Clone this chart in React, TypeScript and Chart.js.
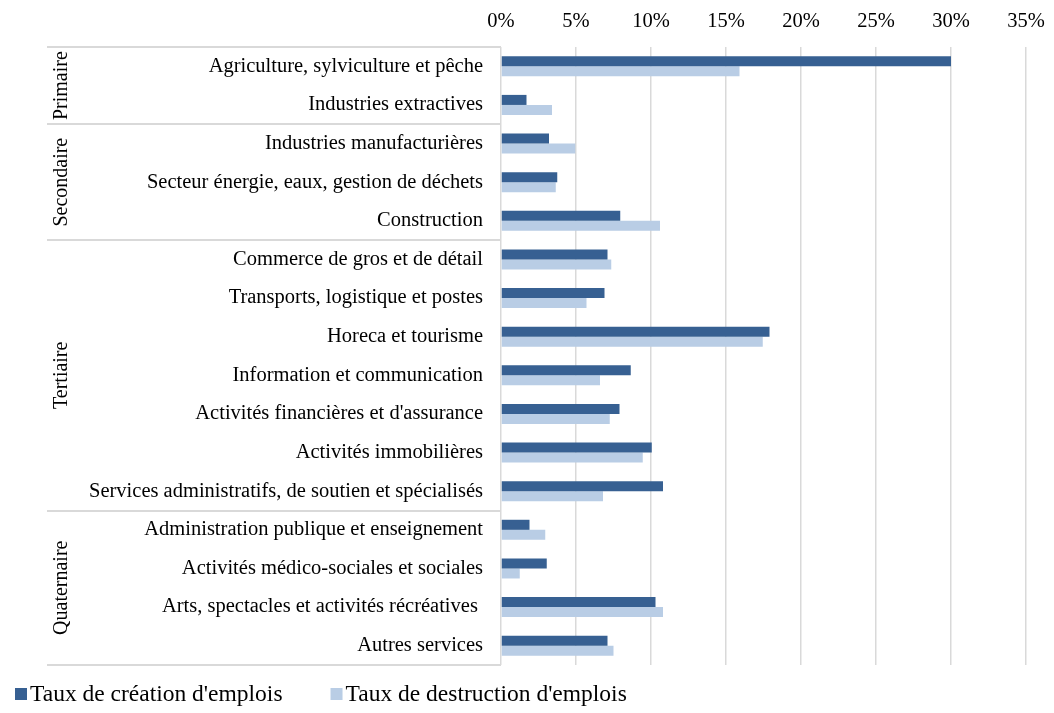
import React, { useEffect, useRef } from 'react';
import { Chart, registerables } from 'chart.js';

Chart.register(...registerables);

const categories = [
  'Agriculture, sylviculture et pêche',
  'Industries extractives',
  'Industries manufacturières',
  'Secteur énergie, eaux, gestion de déchets',
  'Construction',
  'Commerce de gros et de détail',
  'Transports, logistique et postes',
  'Horeca et tourisme',
  'Information et communication',
  "Activités financières et d'assurance",
  'Activités immobilières',
  'Services administratifs, de soutien et spécialisés',
  'Administration publique et enseignement',
  'Activités médico-sociales et sociales',
  'Arts, spectacles et activités récréatives ',
  'Autres services',
];

const creationRates = [30, 1.7, 3.2, 3.75, 7.95, 7.1, 6.9, 17.9, 8.65, 7.9, 10.05, 10.8, 1.9, 3.05, 10.3, 7.1];
const destructionRates = [15.9, 3.4, 4.95, 3.65, 10.6, 7.35, 5.7, 17.45, 6.6, 7.25, 9.45, 6.8, 2.95, 1.25, 10.8, 7.5];

const seriesNames = ["Taux de création d'emplois", "Taux de destruction d'emplois"];
const groupNames = ['Primaire', 'Secondaire', 'Tertiaire', 'Quaternaire'];
const groupSizes = [2, 3, 7, 4];

const xMin = 0;
const xMax = 35;
const xStep = 5;

const FONT = "'Liberation Serif', 'Times New Roman', serif";
const DARK = '#376092';
const LIGHT = '#B9CDE5';
const GRID = '#D9D9D9';

const groupPlugin = {
  id: 'groupPlugin',
  afterDraw(chart: any) {
    const { ctx, chartArea, scales } = chart;
    const y = scales.y;
    const boundaries: number[] = [];
    let idx = 0;
    boundaries.push(chartArea.top);
    groupSizes.forEach((size) => {
      idx += size;
      if (idx >= categories.length) {
        boundaries.push(chartArea.bottom);
      } else {
        boundaries.push((y.getPixelForValue(idx - 1) + y.getPixelForValue(idx)) / 2);
      }
    });
    ctx.save();
    ctx.strokeStyle = GRID;
    ctx.lineWidth = 2;
    boundaries.forEach((b) => {
      ctx.beginPath();
      ctx.moveTo(47, Math.round(b));
      ctx.lineTo(chartArea.left, Math.round(b));
      ctx.stroke();
    });
    ctx.fillStyle = '#000';
    ctx.font = `20px ${FONT}`;
    ctx.textAlign = 'center';
    ctx.textBaseline = 'middle';
    groupNames.forEach((name, i) => {
      const cy = (boundaries[i] + boundaries[i + 1]) / 2;
      ctx.save();
      ctx.translate(62, cy);
      ctx.rotate(-Math.PI / 2);
      ctx.fillText(name, 0, 0);
      ctx.restore();
    });

    // legend
    ctx.font = `23.5px ${FONT}`;
    ctx.textAlign = 'left';
    ctx.textBaseline = 'middle';
    let x = 15;
    const ly = 694;
    chart.data.datasets.forEach((ds: any) => {
      ctx.fillStyle = ds.backgroundColor;
      ctx.fillRect(x, ly - 6, 12, 12);
      ctx.fillStyle = '#000';
      ctx.fillText(ds.label, x + 15, ly + 1);
      x += 15 + ctx.measureText(ds.label).width + 48;
    });
    ctx.restore();
  },
};

export default function App() {
  const canvasRef = useRef<HTMLCanvasElement | null>(null);

  useEffect(() => {
    document.body.style.margin = '0';
    const canvas = canvasRef.current;
    if (!canvas) return;
    const chart = new Chart(canvas, {
      type: 'bar',
      data: {
        labels: categories,
        datasets: [
          {
            label: seriesNames[0],
            data: creationRates,
            backgroundColor: DARK,
            borderWidth: 0,
            categoryPercentage: 0.52,
            barPercentage: 1,
          },
          {
            label: seriesNames[1],
            data: destructionRates,
            backgroundColor: LIGHT,
            borderWidth: 0,
            categoryPercentage: 0.52,
            barPercentage: 1,
          },
        ],
      },
      options: {
        indexAxis: 'y',
        animation: false,
        responsive: false,
        maintainAspectRatio: false,
        layout: { padding: { left: 5, right: 28, top: 0, bottom: 48 } },
        scales: {
          x: {
            position: 'top',
            min: xMin,
            max: xMax,
            ticks: {
              stepSize: xStep,
              padding: 13,
              color: '#000',
              font: { family: FONT, size: 20.5 },
              callback: (v: any) => `${v}%`,
            },
            grid: { color: GRID, lineWidth: 1.5, drawTicks: false },
            border: { display: false },
            afterFit: (scale: any) => {
              scale.height = 47;
              scale.paddingRight = 0;
              scale.paddingLeft = 0;
            },
          },
          y: {
            ticks: {
              padding: 18,
              color: '#000',
              font: { family: FONT, size: 20.5 },
              autoSkip: false,
            },
            grid: { display: false, drawTicks: false },
            border: { display: false },
            afterFit: (scale: any) => {
              scale.width = 496;
            },
          },
        },
        plugins: {
          legend: { display: false },
          tooltip: { enabled: false },
        },
      },
      plugins: [groupPlugin],
    } as any);
    return () => chart.destroy();
  }, []);

  return (
    <div style={{ width: 1054, height: 713 }}>
      <canvas ref={canvasRef} width={1054} height={713} style={{ display: 'block' }} />
    </div>
  );
}
